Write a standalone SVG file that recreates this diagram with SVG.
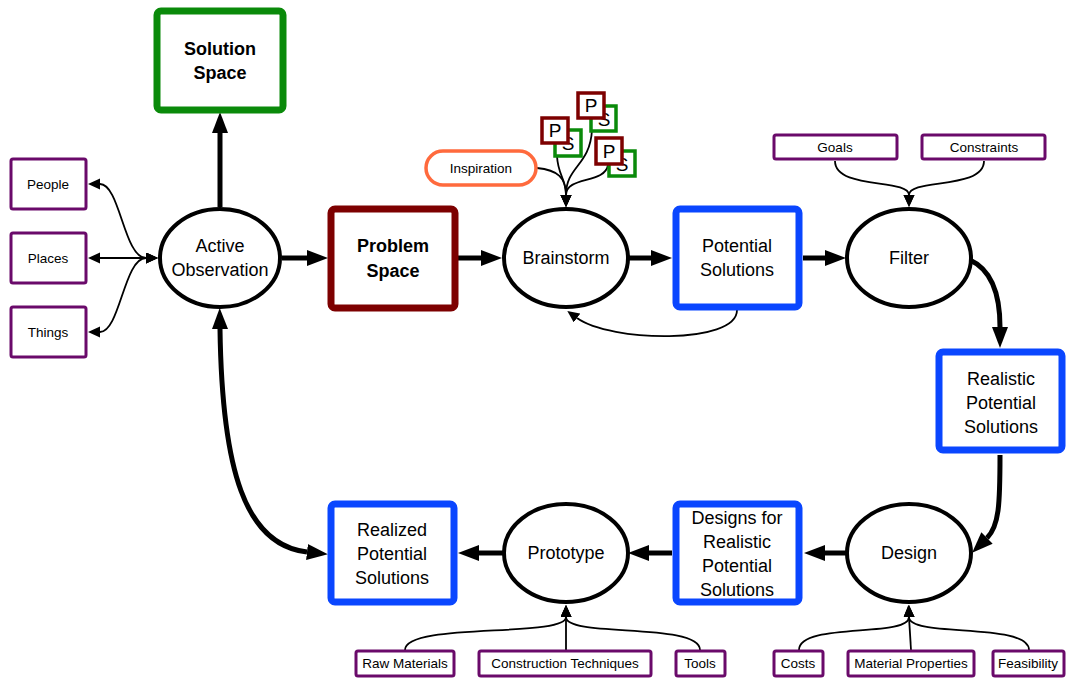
<svg xmlns="http://www.w3.org/2000/svg" width="1066" height="680" viewBox="0 0 1066 680">
  <style>
    text { font-family: "Liberation Sans", Arial, sans-serif; fill: #000; text-anchor: middle; }
    .big { font-size: 18px; }
    .bold { font-size: 18px; font-weight: bold; }
    .small { font-size: 13.5px; }
    .letter { font-size: 19px; }
    .ell { fill: #fff; stroke: #000; stroke-width: 4; }
    .box { fill: #fff; stroke-width: 7; }
    .blue { stroke: #0a46ff; }
    .green { stroke: #0a8a0a; }
    .red { stroke: #7d0000; }
    .tag { fill: #fff; stroke: #6a0a6a; stroke-width: 3; }
    .ps { fill: #fff; stroke-width: 3.5; }
    .thick { fill: none; stroke: #000; stroke-width: 5; }
    .thin { fill: none; stroke: #000; stroke-width: 1.8; }
  </style>
  <defs>
    <marker id="bigHead" markerUnits="userSpaceOnUse" markerWidth="22" markerHeight="18" refX="0" refY="8" orient="auto-start-reverse" viewBox="0 0 22 18">
      <path d="M0,0 L21,8 L0,16 z" fill="#000"/>
    </marker>
    <marker id="smallHead" markerUnits="userSpaceOnUse" markerWidth="14" markerHeight="12" refX="0" refY="5.5" orient="auto-start-reverse" viewBox="0 0 14 12">
      <path d="M0,0 L12,5.5 L0,11 z" fill="#000"/>
    </marker>
  </defs>

  <!-- connectors -->
  <g id="connectors">
    <!-- main flow -->
    <path class="thick" d="M220 207 L220 133" marker-end="url(#bigHead)"/>
    <path class="thick" d="M282 258 L307 258" marker-end="url(#bigHead)"/>
    <path class="thick" d="M458 258 L481 258" marker-end="url(#bigHead)"/>
    <path class="thick" d="M628 258 L651 258" marker-end="url(#bigHead)"/>
    <path class="thick" d="M803 258 L825 258" marker-end="url(#bigHead)"/>
    <path class="thick" d="M970 260 C992 270 1000 295 1000 327" marker-end="url(#bigHead)"/>
    <path class="thick" d="M1000 455 C1000 505 999 526 987 538" marker-end="url(#bigHead)"/>
    <path class="thick" d="M846 553 L825 553" marker-end="url(#bigHead)"/>
    <path class="thick" d="M672 553 L649 553" marker-end="url(#bigHead)"/>
    <path class="thick" d="M503 553 L479 553" marker-end="url(#bigHead)"/>
    <path class="thick" d="M220 329 C222 470 245 545 307 552" marker-start="url(#bigHead)" marker-end="url(#bigHead)"/>

    <!-- observation targets -->
    <path class="thin" d="M146 258 C124 258 120 184 100 184" marker-start="url(#smallHead)" marker-end="url(#smallHead)"/>
    <path class="thin" d="M146 258 L100 258" marker-start="url(#smallHead)" marker-end="url(#smallHead)"/>
    <path class="thin" d="M146 258 C124 258 120 332 100 332" marker-start="url(#smallHead)" marker-end="url(#smallHead)"/>

    <!-- brainstorm inputs -->
    <path class="thin" d="M537 168 C558 170 566 178 566 195" marker-end="url(#smallHead)"/>
    <path class="thin" d="M557 156 C558 176 566 178 566 195" marker-end="url(#smallHead)"/>
    <path class="thin" d="M592 130 C590 166 566 166 566 195" marker-end="url(#smallHead)"/>
    <path class="thin" d="M608 165 C605 184 566 176 566 195" marker-end="url(#smallHead)"/>

    <!-- feedback to brainstorm -->
    <path class="thin" d="M737 310 C737 345 610 342 577 318" marker-end="url(#smallHead)"/>

    <!-- filter inputs -->
    <path class="thin" d="M835 161 C835 190 909 178 909 195" marker-end="url(#smallHead)"/>
    <path class="thin" d="M984 161 C984 190 909 178 909 195" marker-end="url(#smallHead)"/>

    <!-- prototype inputs -->
    <path class="thin" d="M405 650 C405 622 566 638 566 617" marker-end="url(#smallHead)"/>
    <path class="thin" d="M566 650 L566 617" marker-end="url(#smallHead)"/>
    <path class="thin" d="M700 650 C700 622 566 638 566 617" marker-end="url(#smallHead)"/>

    <!-- design inputs -->
    <path class="thin" d="M799 650 C799 622 909 638 909 617" marker-end="url(#smallHead)"/>
    <path class="thin" d="M911 650 L909 617" marker-end="url(#smallHead)"/>
    <path class="thin" d="M1029 650 C1029 622 909 638 909 617" marker-end="url(#smallHead)"/>
  </g>

  <!-- main nodes -->
  <g id="solution-space">
    <rect class="box green" x="157" y="11" width="126" height="99" rx="4"/>
    <text class="bold" x="220" y="55">Solution</text>
    <text class="bold" x="220" y="79">Space</text>
  </g>
  <g id="active-observation">
    <ellipse class="ell" cx="220" cy="258" rx="60" ry="49"/>
    <text class="big" x="220" y="252">Active</text>
    <text class="big" x="220" y="276">Observation</text>
  </g>
  <g id="problem-space">
    <rect class="box red" x="331" y="209" width="124" height="99" rx="4"/>
    <text class="bold" x="393" y="252">Problem</text>
    <text class="bold" x="393" y="277">Space</text>
  </g>
  <g id="brainstorm">
    <ellipse class="ell" cx="566" cy="258" rx="62" ry="49"/>
    <text class="big" x="566" y="264">Brainstorm</text>
  </g>
  <g id="potential-solutions">
    <rect class="box blue" x="676" y="209" width="123" height="98" rx="4"/>
    <text class="big" x="737" y="252">Potential</text>
    <text class="big" x="737" y="276">Solutions</text>
  </g>
  <g id="filter">
    <ellipse class="ell" cx="909" cy="258" rx="62" ry="49"/>
    <text class="big" x="909" y="264">Filter</text>
  </g>
  <g id="realistic-potential-solutions">
    <rect class="box blue" x="939" y="352" width="123" height="98" rx="4"/>
    <text class="big" x="1001" y="385">Realistic</text>
    <text class="big" x="1001" y="409">Potential</text>
    <text class="big" x="1001" y="433">Solutions</text>
  </g>
  <g id="design">
    <ellipse class="ell" cx="909" cy="553" rx="62" ry="49"/>
    <text class="big" x="909" y="559">Design</text>
  </g>
  <g id="designs-for-realistic">
    <rect class="box blue" x="676" y="504" width="123" height="98" rx="4"/>
    <text class="big" x="737" y="524">Designs for</text>
    <text class="big" x="737" y="548">Realistic</text>
    <text class="big" x="737" y="572">Potential</text>
    <text class="big" x="737" y="596">Solutions</text>
  </g>
  <g id="prototype">
    <ellipse class="ell" cx="566" cy="553" rx="62" ry="49"/>
    <text class="big" x="566" y="559">Prototype</text>
  </g>
  <g id="realized-potential-solutions">
    <rect class="box blue" x="331" y="504" width="123" height="98" rx="4"/>
    <text class="big" x="392" y="536">Realized</text>
    <text class="big" x="392" y="560">Potential</text>
    <text class="big" x="392" y="584">Solutions</text>
  </g>

  <!-- observation targets -->
  <g id="people">
    <rect class="tag" x="11" y="159" width="75" height="50" rx="2"/>
    <text class="small" x="48" y="189">People</text>
  </g>
  <g id="places">
    <rect class="tag" x="11" y="233" width="75" height="50" rx="2"/>
    <text class="small" x="48" y="263">Places</text>
  </g>
  <g id="things">
    <rect class="tag" x="11" y="307" width="75" height="50" rx="2"/>
    <text class="small" x="48" y="337">Things</text>
  </g>

  <!-- brainstorm inputs -->
  <g id="inspiration">
    <rect x="426" y="151" width="110" height="34" rx="17" fill="#fff" stroke="#ff6a3d" stroke-width="3.5"/>
    <text class="small" x="481" y="173">Inspiration</text>
  </g>
  <g id="ps-1">
    <rect class="ps green" x="555" y="130" width="26" height="26"/>
    <text class="letter" x="568" y="150">S</text>
    <rect class="ps red" x="542" y="118" width="26" height="25"/>
    <text class="letter" x="555" y="137">P</text>
  </g>
  <g id="ps-2">
    <rect class="ps green" x="591" y="106" width="25" height="25"/>
    <text class="letter" x="604" y="126">S</text>
    <rect class="ps red" x="578" y="93" width="26" height="25"/>
    <text class="letter" x="591" y="112">P</text>
  </g>
  <g id="ps-3">
    <rect class="ps green" x="609" y="151" width="26" height="25"/>
    <text class="letter" x="622" y="171">S</text>
    <rect class="ps red" x="596" y="138" width="26" height="26"/>
    <text class="letter" x="609" y="158">P</text>
  </g>

  <!-- filter inputs -->
  <g id="goals">
    <rect class="tag" x="774" y="135" width="123" height="24" rx="2"/>
    <text class="small" x="835" y="152">Goals</text>
  </g>
  <g id="constraints">
    <rect class="tag" x="922" y="135" width="123" height="24" rx="2"/>
    <text class="small" x="984" y="152">Constraints</text>
  </g>

  <!-- prototype inputs -->
  <g id="raw-materials">
    <rect class="tag" x="356" y="651" width="98" height="25" rx="2"/>
    <text class="small" x="405" y="668">Raw Materials</text>
  </g>
  <g id="construction-techniques">
    <rect class="tag" x="479" y="651" width="172" height="25" rx="2"/>
    <text class="small" x="565" y="668">Construction Techniques</text>
  </g>
  <g id="tools">
    <rect class="tag" x="676" y="651" width="49" height="25" rx="2"/>
    <text class="small" x="700" y="668">Tools</text>
  </g>

  <!-- design inputs -->
  <g id="costs">
    <rect class="tag" x="774" y="651" width="49" height="25" rx="2"/>
    <text class="small" x="798" y="668">Costs</text>
  </g>
  <g id="material-properties">
    <rect class="tag" x="848" y="651" width="126" height="25" rx="2"/>
    <text class="small" x="911" y="668">Material Properties</text>
  </g>
  <g id="feasibility">
    <rect class="tag" x="993" y="651" width="71" height="25" rx="2"/>
    <text class="small" x="1028" y="668">Feasibility</text>
  </g>
</svg>
